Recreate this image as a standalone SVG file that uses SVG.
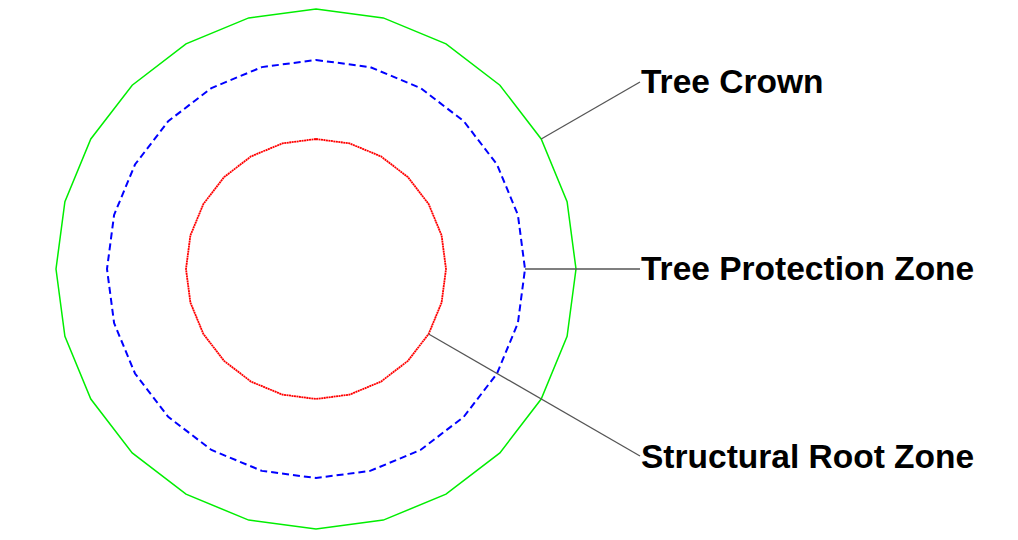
<svg xmlns="http://www.w3.org/2000/svg" width="1018" height="540" viewBox="0 0 1018 540">
<style>
.zone{fill:none;stroke-linejoin:miter}
.crown{stroke:#00ee00;stroke-width:1.5}
.tpz{stroke:#0000ff;stroke-width:2;stroke-dasharray:7 4}
.srz{stroke:#ff0000;stroke-width:1.8;stroke-dasharray:2 0.5}
.leader{stroke:#555555;stroke-width:1.3;fill:none}
.label{font-family:"Liberation Sans",Arial,sans-serif;font-weight:bold;font-size:33.5px;fill:#000000}
</style>
<rect width="1018" height="540" fill="#ffffff"/>
<g id="tree-crown">
<polygon class="zone crown" points="316,9 383.3,17.9 446,43.8 499.9,85.2 541.2,139 567.1,201.7 576,269 567.1,336.3 541.2,399 499.9,452.9 446,494.2 383.3,520.1 316,529 248.7,520.1 186,494.2 132.2,452.9 90.8,399 64.9,336.3 56,269 64.9,201.7 90.8,139 132.2,85.2 186,43.8 248.7,17.9"/>
</g>
<g id="tree-protection-zone">
<polygon class="zone tpz" points="316,60 370.1,67.1 420.5,88 463.8,121.2 497,164.5 517.9,214.9 525,269 517.9,323.1 497,373.5 463.8,416.8 420.5,450 370.1,470.9 316,478 261.9,470.9 211.5,450 168.2,416.8 135,373.5 114.1,323.1 107,269 114.1,214.9 135,164.5 168.2,121.2 211.5,88 261.9,67.1"/>
</g>
<g id="structural-root-zone">
<polygon class="zone srz" points="316,139 349.6,143.4 381,156.4 407.9,177.1 428.6,204 441.6,235.4 446,269 441.6,302.6 428.6,334 407.9,360.9 381,381.6 349.6,394.6 316,399 282.4,394.6 251,381.6 224.1,360.9 203.4,334 190.4,302.6 186,269 190.4,235.4 203.4,204 224.1,177.1 251,156.4 282.4,143.4"/>
</g>
<g id="connectors">
<line class="leader" x1="541.2" y1="139" x2="640" y2="82"/>
<line class="leader" x1="525" y1="269" x2="640" y2="269"/>
<line class="leader" x1="428.6" y1="334" x2="640" y2="456"/>
</g>
<g id="labels">
<text id="label-crown" class="label" x="641" y="93">Tree Crown</text>
<text id="label-tpz" class="label" x="641" y="280">Tree Protection Zone</text>
<text id="label-srz" class="label" x="641" y="468">Structural Root Zone</text>
</g>
</svg>
